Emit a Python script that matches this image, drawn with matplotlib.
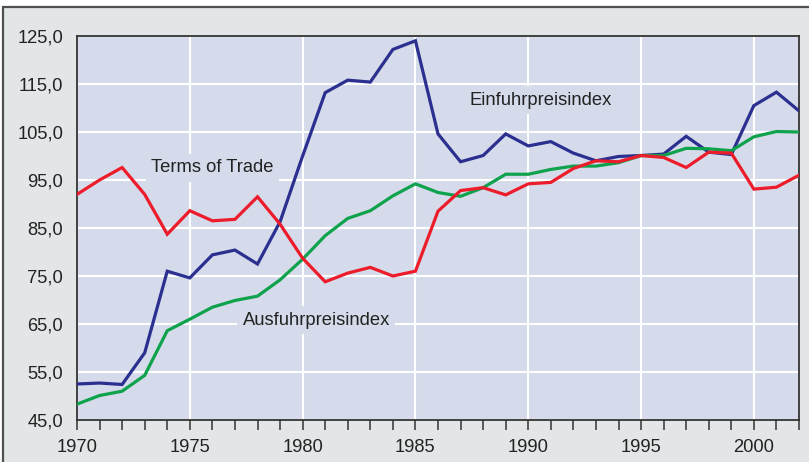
import matplotlib
matplotlib.use("Agg")
import matplotlib.pyplot as plt
from matplotlib.patches import Rectangle
from matplotlib.ticker import FuncFormatter, MultipleLocator, FixedLocator

plt.rcParams['font.family'] = ['Liberation Sans', 'DejaVu Sans']

years = list(range(1970, 2003))

einfuhr = [52.5, 52.7, 52.4, 59.0, 76.0, 74.6, 79.4, 80.4, 77.5, 86.3,
           100.0, 113.2, 115.8, 115.4, 122.2, 124.0, 104.6, 98.8, 100.1, 104.6,
           102.1, 103.0, 100.6, 99.0, 99.9, 100.1, 100.4, 104.1, 100.8, 100.3,
           110.5, 113.3, 109.4]

ausfuhr = [48.3, 50.1, 51.0, 54.3, 63.6, 66.0, 68.5, 69.9, 70.8, 74.2,
           78.5, 83.4, 87.0, 88.6, 91.7, 94.2, 92.4, 91.6, 93.4, 96.2,
           96.2, 97.2, 97.9, 97.9, 98.6, 100.1, 100.1, 101.6, 101.5, 101.1,
           104.0, 105.1, 105.0]

terms_of_trade = [92.0, 95.0, 97.6, 92.0, 83.7, 88.6, 86.5, 86.8, 91.5, 85.8,
                  78.7, 73.8, 75.6, 76.8, 75.0, 76.0, 88.5, 92.8, 93.4, 91.9,
                  94.2, 94.5, 97.4, 99.0, 98.8, 100.1, 99.7, 97.6, 100.8, 100.6,
                  93.1, 93.5, 96.0]

y_ticks = [45, 55, 65, 75, 85, 95, 105, 115, 125]

W, H = 809, 462
panel_bg = '#e3e6e7'
plot_bg = '#d5dbea'
text_col = '#222222'
fs = 13.2

fig = plt.figure(figsize=(W / 100, H / 100), dpi=100, facecolor='white')

# framed grey panel behind the chart
frame = Rectangle((3 / W, -0.01), 1.0, (H - 7) / H + 0.01, transform=fig.transFigure,
                  facecolor=panel_bg, edgecolor='#505050', linewidth=1.6, zorder=-10)
fig.patches.append(frame)

ax = fig.add_axes([77 / W, (H - 420) / H, 722 / W, 384 / H])
ax.set_facecolor(plot_bg)

ax.plot(years, einfuhr, color='#2b2f90', lw=2.3, zorder=4, solid_joinstyle='miter')
ax.plot(years, ausfuhr, color='#0fa24c', lw=2.3, zorder=4, solid_joinstyle='miter')
ax.plot(years, terms_of_trade, color='#ec1c2a', lw=2.3, zorder=4, solid_joinstyle='miter')

ax.set_xlim(1970, 2002)
ax.set_ylim(45, 125)

ax.xaxis.set_major_locator(MultipleLocator(5))
ax.xaxis.set_minor_locator(MultipleLocator(1))
ax.yaxis.set_major_locator(FixedLocator(y_ticks))
ax.yaxis.set_major_formatter(FuncFormatter(lambda v, p: f"{v:.1f}".replace('.', ',')))

ax.grid(True, which='major', color='white', lw=1.5, zorder=1)
ax.set_axisbelow(True)

ax.tick_params(axis='x', which='both', direction='out', length=7, width=1.1,
               color='#333333', labelsize=fs, labelcolor=text_col, pad=7)
ax.tick_params(axis='y', which='both', length=0, labelsize=fs,
               labelcolor=text_col, pad=10)

for s in ax.spines.values():
    s.set_color('#333333')
    s.set_linewidth(1.3)

box = dict(facecolor=plot_bg, edgecolor='none', pad=4)
ax.text(1976.0, 97.6, 'Terms of Trade', fontsize=fs, color=text_col,
        ha='center', va='center', bbox=box, zorder=3)
ax.text(1990.55, 111.6, 'Einfuhrpreisindex', fontsize=fs, color=text_col,
        ha='center', va='center', bbox=box, zorder=3)
ax.text(1980.6, 65.8, 'Ausfuhrpreisindex', fontsize=fs, color=text_col,
        ha='center', va='center', bbox=box, zorder=3)

fig.savefig('out.png', dpi=100, facecolor='white')
